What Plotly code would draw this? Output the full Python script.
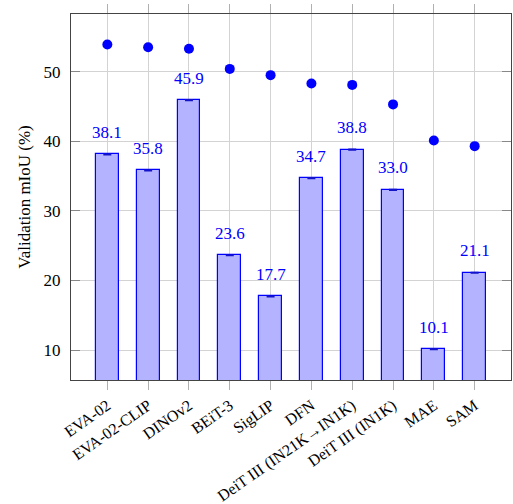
import plotly.graph_objects as go

# Models evaluated
models = ["EVA-02", "EVA-02-CLIP", "DINOv2", "BEiT-3", "SigLIP", "DFN",
          "DeiT III (IN21K→IN1K)", "DeiT III (IN1K)", "MAE", "SAM"]
# Bar series (validation mIoU, %) and its small spread
bar_miou = [38.1, 35.8, 45.9, 23.6, 17.7, 34.7, 38.8, 33.0, 10.1, 21.1]
bar_err = [0.05, 0.03, 0.05, 0.03, 0.03, 0.05, 0.05, 0.05, 0.03, 0.05]
# Reference scores drawn as dots
dot_miou = [53.9, 53.5, 53.3, 50.4, 49.5, 48.3, 48.1, 45.3, 40.1, 39.3]
y_ticks = [10, 20, 30, 40, 50]

FONT = "Liberation Serif"
xs = list(range(len(models)))

fig = go.Figure()
fig.add_trace(go.Bar(
    x=xs, y=bar_miou, width=0.56,
    marker=dict(color="rgb(179,179,255)", line=dict(color="blue", width=1.2)),
    error_y=dict(type="data", array=bar_err, color="rgb(20,20,200)",
                 thickness=1.5, width=4),
    showlegend=False,
))
fig.add_trace(go.Scatter(
    x=xs, y=dot_miou, mode="markers",
    marker=dict(color="blue", size=10),
    showlegend=False,
))
for x, v in zip(xs, bar_miou):
    fig.add_annotation(x=x, y=v, text=f"{v:.1f}", showarrow=False,
                       yanchor="middle", yshift=22,
                       font=dict(family=FONT, size=17, color="blue"))

fig.update_layout(
    width=513, height=504,
    margin=dict(l=71, r=2, t=14, b=124),
    plot_bgcolor="white", paper_bgcolor="white",
    font=dict(family=FONT, size=17),
    bargap=0,
)
fig.update_xaxes(
    range=[-0.89, 9.89], tickmode="array", tickvals=xs, ticktext=models,
    tickangle=-35, ticks="outside", ticklen=9, tickcolor="#b0b0b0",
    showgrid=True, gridcolor="#d3d3d3", gridwidth=1,
    showline=True, linecolor="#444444", linewidth=1.3, mirror="ticks",
    tickfont=dict(family=FONT, size=16, color="black"), zeroline=False,
    automargin=False,
)
fig.update_yaxes(
    range=[5.69, 58.29], tickmode="array", tickvals=y_ticks,
    ticks="inside", ticklen=9, tickcolor="#888888",
    showgrid=True, gridcolor="#d3d3d3", gridwidth=1,
    showline=True, linecolor="#444444", linewidth=1.3, mirror="ticks",
    tickfont=dict(family=FONT, size=17, color="black"), ticklabelstandoff=6,
    title=dict(text="Validation mIoU (%)",
               font=dict(family=FONT, size=17, color="black"), standoff=8),
    zeroline=False, automargin=False,
)

fig.write_html("out.html")
